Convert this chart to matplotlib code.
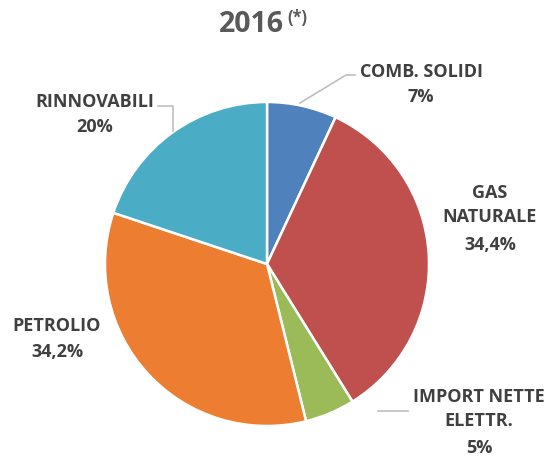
import matplotlib
matplotlib.use('Agg')
import matplotlib.pyplot as plt

# data
labels = ['COMB. SOLIDI', 'GAS\nNATURALE', 'IMPORT NETTE\nELETTR.', 'PETROLIO', 'RINNOVABILI']
values = [7, 34.4, 5, 34.2, 20]
value_text = ['7%', '34,4%', '5%', '34,2%', '20%']
colors = ['#4F81BD', '#C0504D', '#9BBB59', '#ED7D31', '#4BACC6']

W, H = 557, 459
fig = plt.figure(figsize=(W / 100, H / 100), dpi=100)
plt.rcParams['font.family'] = ['Open Sans', 'DejaVu Sans']


def fx(x, y):
    # pixel position (from top-left) -> figure fraction
    return x / W, 1 - y / H


# pie axes, centre (267, 264), radius 162 px
cx, cy, r = 267, 264, 162
ax = fig.add_axes([(cx - r) / W, (H - cy - r) / H, 2 * r / W, 2 * r / H])
ax.pie(values, colors=colors, startangle=90, counterclock=False, radius=1,
       wedgeprops=dict(edgecolor='white', linewidth=1.8))
ax.set_xlim(-1, 1)
ax.set_ylim(-1, 1)
ax.set_axis_off()

# title
fig.text(*fx(251, 24), '2016', ha='center', va='center', fontsize=20.5,
         fontweight='bold', color='#595959')
fig.text(*fx(287, 18), '(*)', ha='left', va='center', fontsize=12,
         fontweight='bold', color='#595959')

# labels: name, value
lab_pos = [(421, 72), (490, 205), (479, 409), (57, 326), (95, 102)]
val_pos = [(421, 97), (490, 245), (479, 448), (57, 352), (95, 127)]
for name, vt, p1, p2 in zip(labels, value_text, lab_pos, val_pos):
    fig.text(*fx(*p1), name, ha='center', va='center', fontsize=13,
             fontweight='bold', color='#404040', linespacing=1.4)
    fig.text(*fx(*p2), vt, ha='center', va='center', fontsize=13,
             fontweight='bold', color='#404040')

# leader lines
leaders = [
    [(355, 75), (346, 75), (300, 103)],
    [(158, 106), (173, 106), (173, 131)],
    [(408, 411), (378, 411)],
]
for pts in leaders:
    xs, ys = zip(*[fx(*p) for p in pts])
    fig.add_artist(plt.Line2D(xs, ys, color='#BFBFBF', linewidth=1.2))

fig.savefig('out.png', dpi=100)
